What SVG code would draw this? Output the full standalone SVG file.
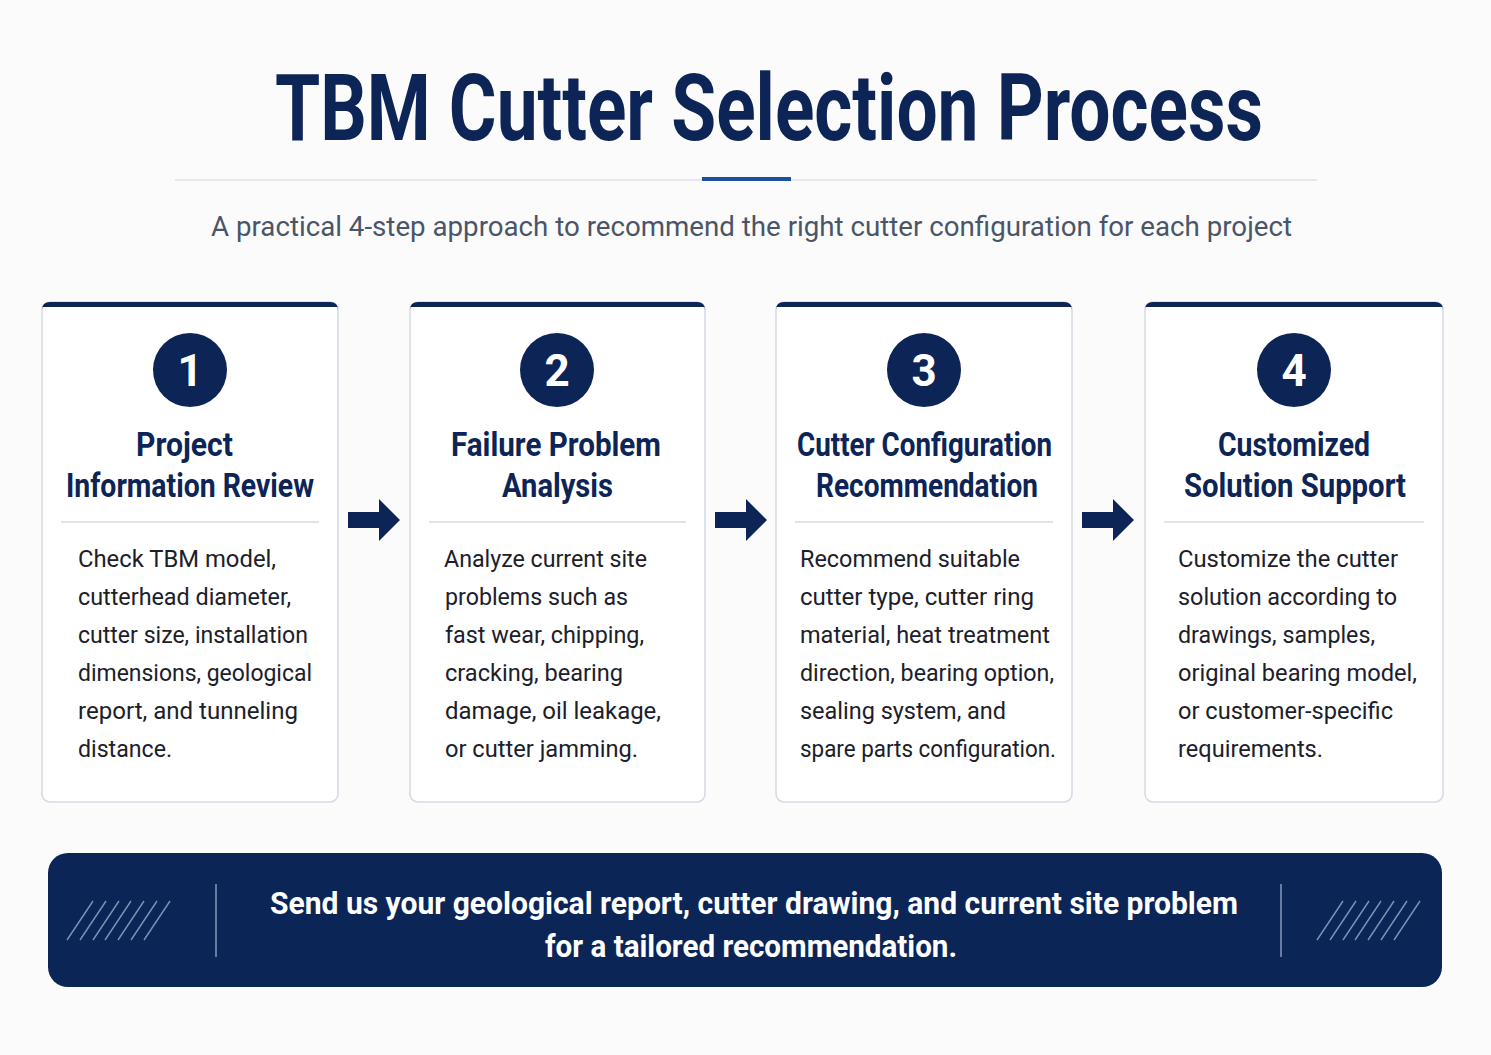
<svg xmlns="http://www.w3.org/2000/svg" width="1491" height="1055" viewBox="0 0 1491 1055">
<defs>
<style>
.title{font-family:Roboto,"Liberation Sans",sans-serif;font-weight:700;fill:#0c2456}
.sub{font-family:Roboto,"Noto Sans","Liberation Sans",sans-serif;font-size:27px;fill:#4a5567}
.card{fill:#ffffff;stroke:#d6dce4;stroke-width:1.6}
.bar{fill:#0c2456}
.num{fill:#0c2456}
.numt{font-family:Roboto,"Liberation Sans",sans-serif;font-weight:700;font-size:44px;fill:#ffffff;text-anchor:middle}
.ht{font-family:Roboto,"Liberation Sans",sans-serif;font-weight:700;font-size:33px;fill:#0c2456}
.div{stroke:#d6dce4;stroke-width:1.6}
.bt{font-family:Roboto,"Noto Sans","Liberation Sans",sans-serif;font-size:24px;fill:#1b202b}
.arrow{fill:#0c2456}
.ban{font-family:Roboto,"Liberation Sans",sans-serif;font-weight:700;font-size:32px;fill:#ffffff}
.hatch{stroke:#7f92b8;stroke-width:1.4}
.vdiv{stroke:#7f92b8;stroke-width:1.6}
</style>
</defs>
<rect width="1491" height="1055" fill="#fbfbfc"/>

<g id="header">
<text class="title" x="275" y="140" font-size="92" textLength="988" lengthAdjust="spacingAndGlyphs">TBM Cutter Selection Process</text>
<line x1="175" y1="180" x2="1317" y2="180" stroke="#dde2e9" stroke-width="1.6"/>
<rect x="702" y="177" width="89" height="4" fill="#1d4f9f"/>
<text class="sub" x="211" y="236" textLength="1081" lengthAdjust="spacingAndGlyphs">A practical 4-step approach to recommend the right cutter configuration for each project</text>
</g>

<g id="step1">
<rect class="card" x="42" y="302" width="296" height="500" rx="8"/>
<path class="bar" d="M42 310 Q42 302 50 302 L330 302 Q338 302 338 310 L338 307 L42 307 Z"/>
<circle class="num" cx="190" cy="370" r="37"/>
<text class="numt" x="190" y="386">1</text>
<text class="ht" x="136" y="456" textLength="97" lengthAdjust="spacingAndGlyphs">Project</text>
<text class="ht" x="66" y="497" textLength="248" lengthAdjust="spacingAndGlyphs">Information Review</text>
<line class="div" x1="61" y1="522" x2="319" y2="522"/>
<text class="bt" x="78" y="567" textLength="198" lengthAdjust="spacingAndGlyphs">Check TBM model,</text>
<text class="bt" x="78" y="605" textLength="213" lengthAdjust="spacingAndGlyphs">cutterhead diameter,</text>
<text class="bt" x="78" y="643" textLength="230" lengthAdjust="spacingAndGlyphs">cutter size, installation</text>
<text class="bt" x="78" y="681" textLength="234" lengthAdjust="spacingAndGlyphs">dimensions, geological</text>
<text class="bt" x="78" y="719" textLength="220" lengthAdjust="spacingAndGlyphs">report, and tunneling</text>
<text class="bt" x="78" y="757" textLength="94" lengthAdjust="spacingAndGlyphs">distance.</text>
</g>

<g id="step2">
<rect class="card" x="410" y="302" width="295" height="500" rx="8"/>
<path class="bar" d="M410 310 Q410 302 418 302 L697 302 Q705 302 705 310 L705 307 L410 307 Z"/>
<circle class="num" cx="557" cy="370" r="37"/>
<text class="numt" x="557" y="386">2</text>
<text class="ht" x="451" y="456" textLength="210" lengthAdjust="spacingAndGlyphs">Failure Problem</text>
<text class="ht" x="502" y="497" textLength="111" lengthAdjust="spacingAndGlyphs">Analysis</text>
<line class="div" x1="429" y1="522" x2="686" y2="522"/>
<text class="bt" x="444" y="567" textLength="203" lengthAdjust="spacingAndGlyphs">Analyze current site</text>
<text class="bt" x="445" y="605" textLength="183" lengthAdjust="spacingAndGlyphs">problems such as</text>
<text class="bt" x="445" y="643" textLength="199" lengthAdjust="spacingAndGlyphs">fast wear, chipping,</text>
<text class="bt" x="445" y="681" textLength="178" lengthAdjust="spacingAndGlyphs">cracking, bearing</text>
<text class="bt" x="445" y="719" textLength="216" lengthAdjust="spacingAndGlyphs">damage, oil leakage,</text>
<text class="bt" x="445" y="757" textLength="193" lengthAdjust="spacingAndGlyphs">or cutter jamming.</text>
</g>

<g id="step3">
<rect class="card" x="776" y="302" width="296" height="500" rx="8"/>
<path class="bar" d="M776 310 Q776 302 784 302 L1064 302 Q1072 302 1072 310 L1072 307 L776 307 Z"/>
<circle class="num" cx="924" cy="370" r="37"/>
<text class="numt" x="924" y="386">3</text>
<text class="ht" x="797" y="456" textLength="255" lengthAdjust="spacingAndGlyphs">Cutter Configuration</text>
<text class="ht" x="816" y="497" textLength="222" lengthAdjust="spacingAndGlyphs">Recommendation</text>
<line class="div" x1="795" y1="522" x2="1053" y2="522"/>
<text class="bt" x="800" y="567" textLength="220" lengthAdjust="spacingAndGlyphs">Recommend suitable</text>
<text class="bt" x="800" y="605" textLength="234" lengthAdjust="spacingAndGlyphs">cutter type, cutter ring</text>
<text class="bt" x="800" y="643" textLength="250" lengthAdjust="spacingAndGlyphs">material, heat treatment</text>
<text class="bt" x="800" y="681" textLength="254" lengthAdjust="spacingAndGlyphs">direction, bearing option,</text>
<text class="bt" x="800" y="719" textLength="206" lengthAdjust="spacingAndGlyphs">sealing system, and</text>
<text class="bt" x="800" y="757" textLength="256" lengthAdjust="spacingAndGlyphs">spare parts configuration.</text>
</g>

<g id="step4">
<rect class="card" x="1145" y="302" width="298" height="500" rx="8"/>
<path class="bar" d="M1145 310 Q1145 302 1153 302 L1435 302 Q1443 302 1443 310 L1443 307 L1145 307 Z"/>
<circle class="num" cx="1294" cy="370" r="37"/>
<text class="numt" x="1294" y="386">4</text>
<text class="ht" x="1218" y="456" textLength="152" lengthAdjust="spacingAndGlyphs">Customized</text>
<text class="ht" x="1184" y="497" textLength="222" lengthAdjust="spacingAndGlyphs">Solution Support</text>
<line class="div" x1="1164" y1="522" x2="1424" y2="522"/>
<text class="bt" x="1178" y="567" textLength="220" lengthAdjust="spacingAndGlyphs">Customize the cutter</text>
<text class="bt" x="1178" y="605" textLength="219" lengthAdjust="spacingAndGlyphs">solution according to</text>
<text class="bt" x="1178" y="643" textLength="197" lengthAdjust="spacingAndGlyphs">drawings, samples,</text>
<text class="bt" x="1178" y="681" textLength="239" lengthAdjust="spacingAndGlyphs">original bearing model,</text>
<text class="bt" x="1178" y="719" textLength="215" lengthAdjust="spacingAndGlyphs">or customer-specific</text>
<text class="bt" x="1178" y="757" textLength="145" lengthAdjust="spacingAndGlyphs">requirements.</text>
</g>

<g id="connectors">
<path class="arrow" d="M348 512 L379 512 L379 499 L400 520 L379 541 L379 528 L348 528 Z"/>
<path class="arrow" d="M715 512 L746 512 L746 499 L767 520 L746 541 L746 528 L715 528 Z"/>
<path class="arrow" d="M1082 512 L1113 512 L1113 499 L1134 520 L1113 541 L1113 528 L1082 528 Z"/>
</g>

<g id="banner">
<rect x="48" y="853" width="1394" height="134" rx="20" fill="#0b2557"/>
<g class="hatch">
<line x1="67" y1="940" x2="93" y2="901"/>
<line x1="80" y1="940" x2="106" y2="901"/>
<line x1="93" y1="940" x2="119" y2="901"/>
<line x1="105" y1="940" x2="131" y2="901"/>
<line x1="118" y1="940" x2="144" y2="901"/>
<line x1="131" y1="940" x2="157" y2="901"/>
<line x1="144" y1="940" x2="170" y2="901"/>
<line x1="1317" y1="940" x2="1343" y2="901"/>
<line x1="1330" y1="940" x2="1356" y2="901"/>
<line x1="1343" y1="940" x2="1369" y2="901"/>
<line x1="1355" y1="940" x2="1381" y2="901"/>
<line x1="1368" y1="940" x2="1394" y2="901"/>
<line x1="1381" y1="940" x2="1407" y2="901"/>
<line x1="1394" y1="940" x2="1420" y2="901"/>
</g>
<line class="vdiv" x1="216" y1="884" x2="216" y2="957"/>
<line class="vdiv" x1="1281" y1="884" x2="1281" y2="957"/>
<text class="ban" x="270" y="914" textLength="968" lengthAdjust="spacingAndGlyphs">Send us your geological report, cutter drawing, and current site problem</text>
<text class="ban" x="545" y="957" textLength="412" lengthAdjust="spacingAndGlyphs">for a tailored recommendation.</text>
</g>
</svg>
